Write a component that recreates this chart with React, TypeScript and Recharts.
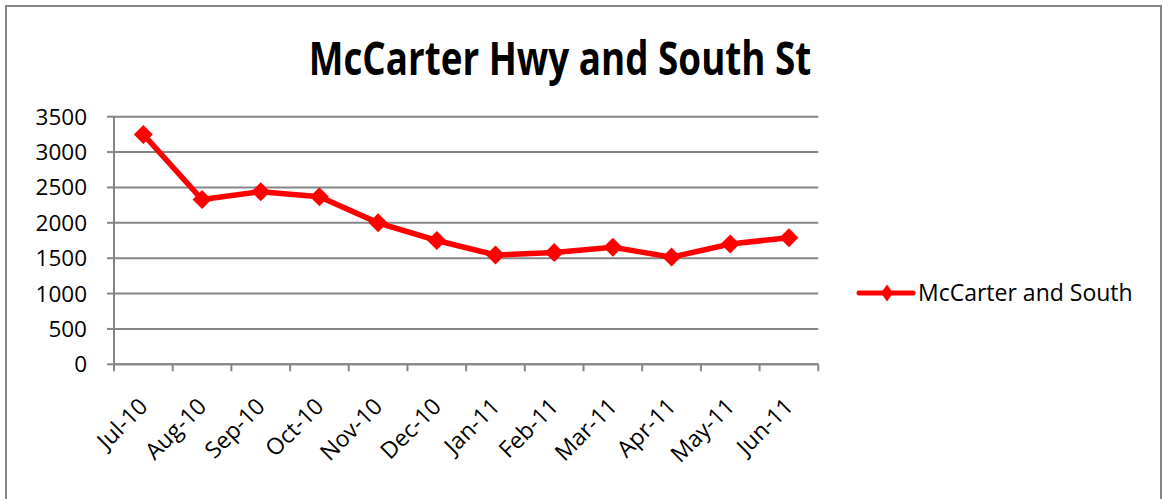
import { CartesianGrid, Line, LineChart, XAxis, YAxis } from "recharts";

const months = [
  "Jul-10", "Aug-10", "Sep-10", "Oct-10", "Nov-10", "Dec-10",
  "Jan-11", "Feb-11", "Mar-11", "Apr-11", "May-11", "Jun-11",
];
const counts = [3250, 2330, 2440, 2370, 2000, 1750, 1545, 1580, 1655, 1515, 1700, 1790];
const yTicks = [0, 500, 1000, 1500, 2000, 2500, 3000, 3500];

const seriesName = "McCarter and South";
const data = months.map((month, i) => ({ month, value: counts[i] }));

const FONT = "'Open Sans', 'Liberation Sans', sans-serif";
const RED = "#ff0000";
const GRID = "#868686";

function Diamond({ cx, cy, half = 9.5 }: { cx?: number; cy?: number; half?: number }) {
  if (cx == null || cy == null) return null;
  return (
    <polygon
      points={`${cx},${cy - half} ${cx + half},${cy} ${cx},${cy + half} ${cx - half},${cy}`}
      fill={RED}
    />
  );
}

// category label, plus the tick marks at the band edges (Excel style)
function MonthTick({ x, y, payload, index, width, visibleTicksCount }: any) {
  const half = width / visibleTicksCount / 2;
  const isLast = index === visibleTicksCount - 1;
  return (
    <g>
      <line x1={x - half} y1={y} x2={x - half} y2={y + 7} stroke={GRID} strokeWidth={2} />
      {isLast && (
        <line x1={x + half} y1={y} x2={x + half} y2={y + 7} stroke={GRID} strokeWidth={2} />
      )}
      <g transform={`translate(${x},${y + 38})`}>
        <text
          transform="rotate(-45)"
          textAnchor="end"
          dy="0.35em"
          fontSize={23}
          fontFamily={FONT}
          fill="#000"
        >
          {payload.value}
        </text>
      </g>
    </g>
  );
}

export default function App() {
  return (
    <div
      style={{
        position: "absolute",
        left: 0,
        top: 0,
        width: 1163,
        height: 499,
        overflow: "hidden",
        background: "#fff",
      }}
    >
      <div
        style={{
          position: "absolute",
          left: 5,
          top: 5,
          width: 1153,
          height: 540,
          border: `2px solid ${GRID}`,
        }}
      />
      <div
        style={{
          position: "absolute",
          left: 0,
          top: 26,
          width: 1120,
          textAlign: "center",
          fontFamily: FONT,
          fontWeight: 700,
          fontSize: 46,
          color: "#000",
          transform: "scaleX(0.8)",
          transformOrigin: "560px 0",
        }}
      >
        McCarter Hwy and South St
      </div>
      <div style={{ position: "absolute", left: 0, top: 0 }}>
        <LineChart
          width={1163}
          height={499}
          data={data}
          margin={{ top: 116.7, right: 344.7, bottom: 0, left: 0 }}
        >
          <CartesianGrid stroke={GRID} strokeWidth={2} vertical={false} />
          <XAxis
            dataKey="month"
            scale="band"
            height={134.7}
            stroke={GRID}
            strokeWidth={2}
            tickLine={false}
            tickSize={0}
            tickMargin={0}
            interval={0}
            tick={<MonthTick />}
          />
          <YAxis
            width={114}
            domain={[0, 3500]}
            ticks={yTicks}
            tickSize={7}
            tickMargin={20}
            stroke={GRID}
            strokeWidth={2}
            tick={{ fontSize: 22.5, fontFamily: FONT, fill: "#000" }}
          />
          <Line
            type="linear"
            dataKey="value"
            name={seriesName}
            stroke={RED}
            strokeWidth={5.5}
            dot={<Diamond />}
            activeDot={false}
            isAnimationActive={false}
          />
        </LineChart>
      </div>
      <svg
        style={{ position: "absolute", left: 856, top: 273, overflow: "visible" }}
        width={300}
        height={40}
      >
        <line x1={3} y1={20} x2={57} y2={20} stroke={RED} strokeWidth={5} strokeLinecap="round" />
        <polygon points="31,11.5 37,20 31,28.5 25,20" fill={RED} />
        <text x={62} y={20} dy="0.35em" fontSize={23} fontFamily={FONT} fill="#000">
          {seriesName}
        </text>
      </svg>
    </div>
  );
}
